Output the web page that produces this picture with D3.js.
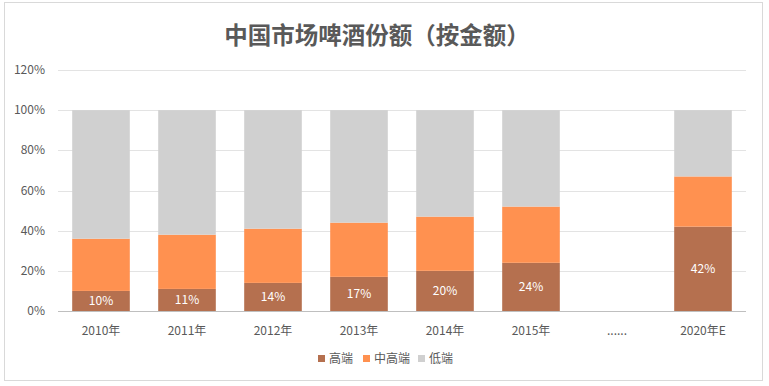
<!DOCTYPE html>
<html>
<head>
<meta charset="utf-8">
<script src="https://cdn.jsdelivr.net/npm/d3@7"></script>
<style>
  html, body { margin: 0; padding: 0; background: #fff; }
  svg { display: block; font-family: "Noto Sans CJK SC", "Noto Sans", sans-serif; }
</style>
</head>
<body>
<div id="chart"></div>
<script>
const categories = ['2010年', '2011年', '2012年', '2013年', '2014年', '2015年', '......', '2020年E']
const highEnd = [10, 11, 14, 17, 20, 24, null, 42]
const midHigh = [26, 27, 27, 27, 27, 28, null, 25]
const lowEnd = [64, 62, 59, 56, 53, 48, null, 33]
const yTicks = [0, 20, 40, 60, 80, 100, 120]
const seriesNames = ['高端', '中高端', '低端']
const seriesColors = ['#b5704f', '#ff9150', '#d0d0d0']

const width = 769
const height = 386
const margin = { top: 70, right: 23, bottom: 75, left: 58 }
const innerWidth = width - margin.left - margin.right
const innerHeight = height - margin.top - margin.bottom

const svg = d3.select('#chart')
  .append('svg')
  .attr('width', width)
  .attr('height', height)

// frame
svg.append('rect')
  .attr('x', 4.5).attr('y', 2.5)
  .attr('width', 758).attr('height', 378)
  .attr('fill', '#fff')
  .attr('stroke', '#d9d9d9')

svg.append('text')
  .attr('x', 377)
  .attr('y', 44)
  .attr('text-anchor', 'middle')
  .attr('fill', '#595959')
  .style('font-size', '23.5px')
  .style('font-weight', 'bold')
  .text('中国市场啤酒份额（按金额）')

const chart = svg.append('g').attr('transform', `translate(${margin.left},${margin.top})`)

const x = d3.scaleBand()
  .domain(categories)
  .range([0, innerWidth])
  .paddingInner(0.33)
  .paddingOuter(0.165)

const y = d3.scaleLinear().domain([0, 120]).range([innerHeight, 0])

// grid
chart.append('g')
  .selectAll('line')
  .data(yTicks.filter((d) => d > 0))
  .join('line')
  .attr('x1', 0)
  .attr('x2', innerWidth)
  .attr('y1', (d) => Math.round(y(d)) + 0.5)
  .attr('y2', (d) => Math.round(y(d)) + 0.5)
  .attr('stroke', '#e3e3e3')

const stacked = categories.map((c, i) => ({
  category: c,
  values: [highEnd[i], midHigh[i], lowEnd[i]]
}))

const groups = chart.selectAll('.bar')
  .data(stacked.filter((d) => d.values[0] !== null))
  .join('g')
  .attr('class', 'bar')

groups.each(function (d) {
  let acc = 0
  const g = d3.select(this)
  d.values.forEach((v, k) => {
    g.append('rect')
      .attr('x', x(d.category))
      .attr('width', x.bandwidth())
      .attr('y', y(acc + v))
      .attr('height', y(acc) - y(acc + v))
      .attr('fill', seriesColors[k])
    acc += v
  })
  g.append('text')
    .attr('x', x(d.category) + x.bandwidth() / 2)
    .attr('y', y(d.values[0] / 2) + 4)
    .attr('text-anchor', 'middle')
    .attr('fill', '#fff')
    .style('font-size', '12px')
    .text(`${d.values[0]}%`)
})

// x axis
chart.append('line')
  .attr('x1', 0).attr('x2', innerWidth)
  .attr('y1', innerHeight + 0.5).attr('y2', innerHeight + 0.5)
  .attr('stroke', '#bfbfbf')

chart.append('g')
  .selectAll('text')
  .data(categories)
  .join('text')
  .attr('x', (d) => x(d) + x.bandwidth() / 2)
  .attr('y', innerHeight + 24)
  .attr('text-anchor', 'middle')
  .attr('fill', '#595959')
  .style('font-size', '12px')
  .text((d) => d)

// y labels
chart.append('g')
  .selectAll('text')
  .data(yTicks)
  .join('text')
  .attr('x', -13)
  .attr('y', (d) => y(d) + 4)
  .attr('text-anchor', 'end')
  .attr('fill', '#595959')
  .style('font-size', '12px')
  .text((d) => `${d}%`)

// legend
const legendX = [318, 363, 418]
const legend = svg.append('g')
legend.selectAll('rect')
  .data(seriesNames)
  .join('rect')
  .attr('x', (_, i) => legendX[i])
  .attr('y', 355)
  .attr('width', 7)
  .attr('height', 7)
  .attr('fill', (_, i) => seriesColors[i])
legend.selectAll('text')
  .data(seriesNames)
  .join('text')
  .attr('x', (_, i) => legendX[i] + 11)
  .attr('y', 363)
  .attr('fill', '#595959')
  .style('font-size', '12px')
  .text((d) => d)
</script>
</body>
</html>
